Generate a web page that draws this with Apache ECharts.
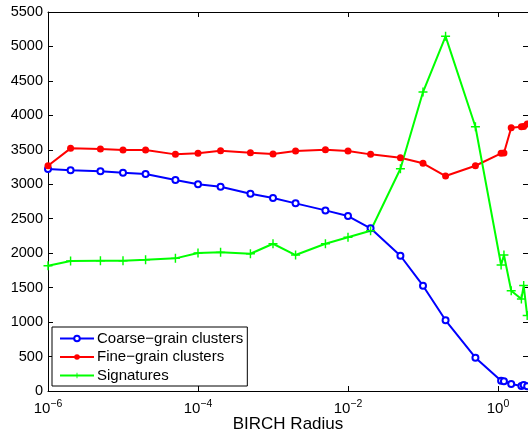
<!DOCTYPE html>
<html>
<head>
<meta charset="utf-8">
<script src="https://cdn.jsdelivr.net/npm/echarts@6/dist/echarts.min.js"></script>
<style>
  html, body { margin: 0; padding: 0; background: #fff; }
  #chart { width: 528px; height: 433px; }
</style>
</head>
<body>
<div id="chart"></div>
<script>
// BIRCH radius values (x) shared by all three series
const radius = [1e-6, 2e-6, 5e-6, 1e-5, 2e-5, 5e-5, 1e-4, 2e-4, 5e-4, 1e-3, 2e-3, 5e-3,
                1e-2, 2e-2, 5e-2, 0.1, 0.2, 0.5, 1.1, 1.2, 1.5, 2.05, 2.2, 2.45];
const coarse = [3220, 3202, 3188, 3168, 3149, 3062, 2999, 2965, 2863, 2800, 2723, 2621,
                2539, 2361, 1963, 1528, 1026, 483, 150, 140, 101, 72, 87, 70];
const fine   = [3269, 3521, 3511, 3497, 3497, 3434, 3449, 3487, 3458, 3439, 3482, 3501,
                3482, 3434, 3385, 3304, 3120, 3269, 3449, 3455, 3821, 3835, 3840, 3874];
const sigs   = [1818, 1886, 1891, 1891, 1905, 1925, 2002, 2012, 1992, 2137, 1973, 2137,
                2230, 2326, 3226, 4338, 5147, 3835, 1828, 1973, 1455, 1335, 1530, 1095];
const xTicks = [1e-6, 1e-4, 1e-2, 1];
const seriesNames = ['Coarse\u2212grain clusters', 'Fine\u2212grain clusters', 'Signatures'];

const FONT = '"Liberation Sans", Arial, sans-serif';
const xMax = Math.pow(10, 0.4);
const plus = 'path://M4.2,0H5.8V4.2H10V5.8H5.8V10H4.2V5.8H0V4.2H4.2Z';

const pairs = ys => radius.map((x, i) => [x, ys[i]]);

const chart = echarts.init(document.getElementById('chart'), null, { renderer: 'canvas' });

const axisCommon = {
  axisLine: { show: true, onZero: false, lineStyle: { color: '#000', width: 1 } },
  axisTick: { show: true, inside: true, length: 5, lineStyle: { color: '#000' } },
  splitLine: { show: false },
  minorTick: { show: false }
};

chart.setOption({
  animation: false,
  backgroundColor: '#fff',
  textStyle: { fontFamily: FONT },
  grid: { left: 48, right: 0, top: 12, bottom: 42, containLabel: false, outerBoundsMode: 'none' },
  legend: {
    orient: 'vertical',
    left: 52, top: 327,
    data: seriesNames,
    backgroundColor: '#fff',
    borderColor: '#000', borderWidth: 1, borderRadius: 0,
    padding: [4, 4, 3, 7],
    itemWidth: 34, itemHeight: 7, itemGap: 3.5,
    textStyle: { fontFamily: FONT, fontSize: 15, color: '#000', lineHeight: 15, padding: [0, 0, 0, -2] }
  },
  xAxis: [
    Object.assign({}, axisCommon, {
      type: 'log', logBase: 10, min: 1e-6, max: xMax, position: 'bottom',
      axisTick: Object.assign({}, axisCommon.axisTick, { customValues: xTicks }),
      axisLabel: {
        customValues: xTicks, margin: 8, color: '#000',
        formatter: v => '{b|10}{s|' + Math.round(Math.log10(v)).toString().replace('-', '\u2212') + '}',
        rich: {
          b: { fontFamily: FONT, fontSize: 15, color: '#000' },
          s: { fontFamily: FONT, fontSize: 10.5, color: '#000', padding: [0, 0, 9, 0] }
        }
      },
      name: 'BIRCH Radius', nameLocation: 'middle', nameGap: 25, nameMoveOverlap: false,
      nameTextStyle: { fontFamily: FONT, fontSize: 17, color: '#000' }
    }),
    Object.assign({}, axisCommon, {
      type: 'log', logBase: 10, min: 1e-6, max: xMax, position: 'top',
      axisTick: Object.assign({}, axisCommon.axisTick, { customValues: xTicks }),
      axisLabel: { show: false }
    })
  ],
  yAxis: [
    Object.assign({}, axisCommon, {
      type: 'value', min: 0, max: 5500, interval: 500, position: 'left',
      axisLabel: { fontFamily: FONT, fontSize: 14.5, color: '#000', margin: 5, formatter: v => String(v) }
    }),
    Object.assign({}, axisCommon, {
      type: 'value', min: 0, max: 5500, interval: 500, position: 'right',
      axisLabel: { show: false }
    })
  ],
  series: [
    {
      name: seriesNames[0], type: 'line', data: pairs(coarse),
      symbol: 'emptyCircle', symbolSize: 6,
      lineStyle: { color: '#0000ff', width: 2 },
      itemStyle: { color: '#0000ff', borderColor: '#0000ff', borderWidth: 2 }
    },
    {
      name: seriesNames[1], type: 'line', data: pairs(fine),
      symbol: 'circle', symbolSize: 7,
      lineStyle: { color: '#ff0000', width: 2 },
      itemStyle: { color: '#ff0000' }
    },
    {
      name: seriesNames[2], type: 'line', data: pairs(sigs),
      symbol: plus, symbolSize: 9,
      lineStyle: { color: '#00ff00', width: 2 },
      itemStyle: { color: '#00ff00' }
    }
  ]
});
</script>
</body>
</html>
